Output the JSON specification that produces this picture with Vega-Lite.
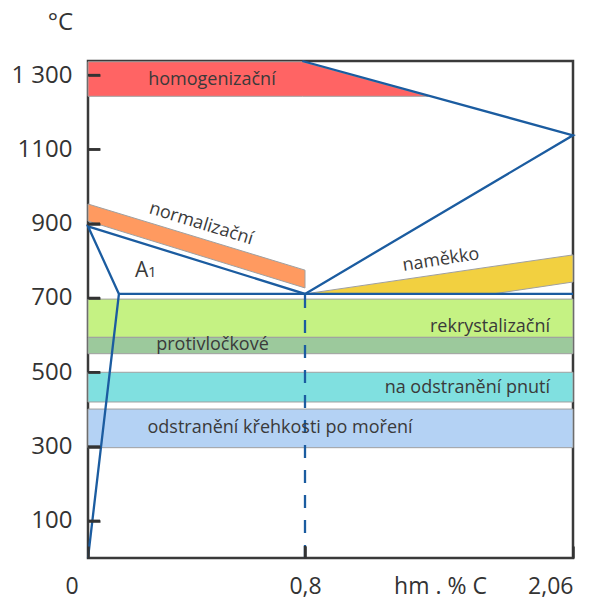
{
  "$schema": "https://vega.github.io/schema/vega-lite/v6.json",
  "width": 485,
  "height": 497,
  "autosize": "none",
  "padding": {"left": 88, "top": 61, "right": 28, "bottom": 42},
  "background": "white",
  "config": {"view": {"stroke": "#3a3a3a", "strokeWidth": 2.5}, "font": "Open Sans"},
  "datasets": {
    "bands": [
      {"band": "rek", "x": 0, "x2": 2.06, "y": 594, "y2": 697},
      {"band": "prot", "x": 0, "x2": 2.06, "y": 550, "y2": 594},
      {"band": "pnuti", "x": 0, "x2": 2.06, "y": 420, "y2": 500},
      {"band": "kreh", "x": 0, "x2": 2.06, "y": 297, "y2": 401}
    ],
    "zones": [
      {"band": "homog", "x": 0, "y": 1243, "y2": 1336},
      {"band": "homog", "x": 0.79, "y": 1243, "y2": 1336},
      {"band": "homog", "x": 1.38, "y": 1243, "y2": 1243},
      {"band": "norm", "x": 0, "y": 907, "y2": 953},
      {"band": "norm", "x": 0.8, "y": 727, "y2": 775},
      {"band": "soft", "x": 0.8, "y": 711, "y2": 711},
      {"band": "soft", "x": 1.684, "y": 711, "y2": 785},
      {"band": "soft", "x": 2.06, "y": 743, "y2": 816}
    ],
    "lines": [
      {"seg": "a", "o": 1, "x": 0, "y": 0},
      {"seg": "a", "o": 2, "x": 0.114, "y": 711},
      {"seg": "a", "o": 3, "x": 0, "y": 893},
      {"seg": "a", "o": 4, "x": 0.8, "y": 711},
      {"seg": "a", "o": 5, "x": 2.06, "y": 1138},
      {"seg": "a", "o": 6, "x": 0.79, "y": 1338},
      {"seg": "b", "o": 1, "x": 0.114, "y": 711},
      {"seg": "b", "o": 2, "x": 2.06, "y": 711}
    ],
    "yticks": [
      {"tk": 1, "x": 0, "y": 100}, {"tk": 1, "x": 0.0442, "y": 100},
      {"tk": 3, "x": 0, "y": 300}, {"tk": 3, "x": 0.0442, "y": 300},
      {"tk": 5, "x": 0, "y": 500}, {"tk": 5, "x": 0.0442, "y": 500},
      {"tk": 7, "x": 0, "y": 700}, {"tk": 7, "x": 0.0442, "y": 700},
      {"tk": 9, "x": 0, "y": 900}, {"tk": 9, "x": 0.0442, "y": 900},
      {"tk": 11, "x": 0, "y": 1100}, {"tk": 11, "x": 0.0442, "y": 1100},
      {"tk": 13, "x": 0, "y": 1300}, {"tk": 13, "x": 0.0442, "y": 1300},
      {"tk": 20, "x": 0.8, "y": 0}, {"tk": 20, "x": 0.8, "y": 32.3}
    ],
    "centerText": [
      {"t": "homogenizační", "x": 0.457, "y": 1287},
      {"t": "protivločkové", "x": 0.459, "y": 573},
      {"t": "odstranění křehkosti po moření", "x": 0.708, "y": 350}
    ],
    "rightText": [
      {"t": "rekrystalizační", "x": 1.952, "y": 622},
      {"t": "na odstranění pnutí", "x": 1.952, "y": 458}
    ]
  },
  "encoding": {
    "x": {
      "field": "x", "type": "quantitative",
      "scale": {"domain": [0, 0.8, 2.06], "range": [0, 217, 485], "zero": false, "nice": false},
      "axis": {
        "values": [0, 0.8, 2.06],
        "labelExpr": "datum.value == 0 ? '0' : datum.value == 0.8 ? '0,8' : '2,06'",
        "grid": false, "domain": false, "offset": -12, "zindex": 1,
        "ticks": true, "tickSize": 12, "tickWidth": 2.5, "tickColor": "#333",
        "labelPadding": 28, "labelBaseline": "middle",
        "labelFontSize": 23, "labelColor": "#333", "labelFont": "Open Sans",
        "labelOffset": {"condition": {"test": "datum.value == 0", "value": -23}, "value": 0},
        "title": "hm . % C", "titleFontSize": 23, "titleFontWeight": "normal", "titleColor": "#333",
        "titleFont": "Open Sans",
        "titleX": 352, "titleY": 40, "titleBaseline": "middle", "titleAlign": "center", "titleAnchor": null
      }
    },
    "y": {
      "field": "y", "type": "quantitative",
      "scale": {"domain": [0, 1338], "zero": false, "nice": false},
      "axis": {
        "values": [100, 300, 500, 700, 900, 1100, 1300],
        "labelExpr": "datum.value == 1300 ? '1 300' : '' + datum.value",
        "grid": false, "domain": false, "offset": -12, "zindex": 1,
        "ticks": true, "tickSize": 12, "tickWidth": 2.5, "tickColor": "#333",
        "labelPadding": 16,
        "labelFontSize": 24, "labelColor": "#333", "labelFont": "Open Sans",
        "title": "°C", "titleAngle": 0, "titleFontSize": 24, "titleFontWeight": "normal", "titleColor": "#333",
        "titleFont": "Open Sans",
        "titleX": -40, "titleY": -39, "titleAlign": "center", "titleBaseline": "middle", "titleAnchor": null
      }
    }
  },
  "layer": [
    {
      "data": {"name": "bands"},
      "mark": {"type": "rect", "stroke": "#a0a0a0", "strokeWidth": 1},
      "encoding": {
        "x2": {"field": "x2"},
        "y2": {"field": "y2"},
        "color": {
          "field": "band", "type": "nominal", "legend": null,
          "scale": {"domain": ["rek", "prot", "pnuti", "kreh", "homog", "norm", "soft"], "range": ["#C5F283", "#9CC99C", "#80E0E0", "#B4D2F4", "#FF6464", "#FF9A60", "#F2D040"]}
        }
      }
    },
    {
      "data": {"name": "zones"},
      "mark": {"type": "area", "stroke": "#a0a0a0", "strokeWidth": 1, "opacity": 1},
      "encoding": {
        "y": {"field": "y", "type": "quantitative", "stack": null},
        "y2": {"field": "y2"},
        "color": {
          "field": "band", "type": "nominal", "legend": null,
          "scale": {"domain": ["rek", "prot", "pnuti", "kreh", "homog", "norm", "soft"], "range": ["#C5F283", "#9CC99C", "#80E0E0", "#B4D2F4", "#FF6464", "#FF9A60", "#F2D040"]}
        }
      }
    },
    {
      "data": {"name": "lines"},
      "mark": {"type": "line", "color": "#1B5CA0", "strokeWidth": 2.3},
      "encoding": {
        "detail": {"field": "seg"},
        "order": {"field": "o", "type": "quantitative"}
      }
    },
    {
      "data": {"values": [{"x": 0.8, "y": 0, "y2": 711}]},
      "mark": {"type": "rule", "color": "#1B5CA0", "strokeWidth": 2.3, "strokeDash": [13, 12]},
      "encoding": {
        "y2": {"field": "y2"}
      }
    },
    {
      "data": {"name": "yticks"},
      "mark": {"type": "line", "color": "#333333", "strokeWidth": 2.5, "strokeCap": "butt"},
      "encoding": {
        "detail": {"field": "tk"}
      }
    },
    {
      "data": {"name": "centerText"},
      "mark": {"type": "text", "fontSize": 18, "color": "#3a3a3a", "align": "center", "baseline": "middle", "font": "Open Sans"},
      "encoding": {"text": {"field": "t"}}
    },
    {
      "data": {"name": "rightText"},
      "mark": {"type": "text", "fontSize": 18, "color": "#3a3a3a", "align": "right", "baseline": "middle", "font": "Open Sans"},
      "encoding": {"text": {"field": "t"}}
    },
    {
      "data": {"values": [{"t": "normalizační", "x": 0.417, "y": 899}]},
      "mark": {"type": "text", "fontSize": 18, "color": "#3a3a3a", "align": "center", "baseline": "middle", "angle": 17, "font": "Open Sans"},
      "encoding": {"text": {"field": "t"}}
    },
    {
      "data": {"values": [{"t": "naměkko", "x": 1.439, "y": 802}]},
      "mark": {"type": "text", "fontSize": 18, "color": "#3a3a3a", "align": "center", "baseline": "middle", "angle": -9, "font": "Open Sans"},
      "encoding": {"text": {"field": "t"}}
    },
    {
      "data": {"values": [{"t": "A", "x": 0.173, "y": 756}]},
      "mark": {"type": "text", "fontSize": 21, "color": "#3a3a3a", "align": "left", "baseline": "alphabetic", "font": "Open Sans"},
      "encoding": {"text": {"field": "t"}}
    },
    {
      "data": {"values": [{"t": "1", "x": 0.221, "y": 756}]},
      "mark": {"type": "text", "fontSize": 15, "color": "#3a3a3a", "align": "left", "baseline": "alphabetic", "font": "Open Sans"},
      "encoding": {"text": {"field": "t"}}
    }
  ]
}
